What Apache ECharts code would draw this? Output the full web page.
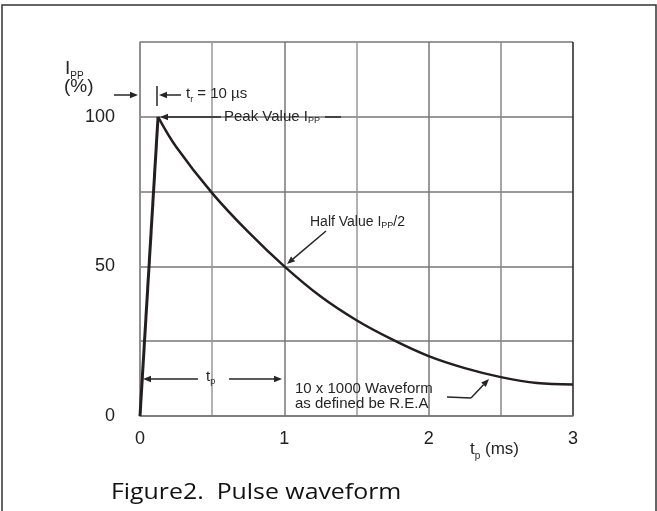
<!DOCTYPE html>
<html>
<head>
<meta charset="utf-8">
<script src="https://cdn.jsdelivr.net/npm/echarts@6/dist/echarts.min.js"></script>
<style>
  html, body { margin: 0; padding: 0; background: #fff; }
  #main { width: 657px; height: 511px; }
</style>
</head>
<body>
<div id="main"></div>
<script>
// pulse waveform, values (t in ms, I in % of Ipp)
var riseT = [0, 0.125];
var riseI = [0, 100];
var decayT = [0.125, 0.25, 0.5, 0.75, 1, 1.25, 1.5, 1.75, 2, 2.25, 2.5, 2.75, 3];
var decayI = [100, 90, 74.5, 61.5, 50, 40, 32, 25.5, 20, 16, 13, 11, 10.5];
var xTickLabels = ['0', '1', '2', '3'];
var yTickLabels = ['0', '50', '100'];

var INK = '#262626';
var FONT = 'Liberation Sans';

function zip(a, b) {
  return a.map(function (v, i) { return [v, b[i]]; });
}

var measure = document.createElement('canvas').getContext('2d');
function textWidth(t, size) {
  measure.font = size + 'px "' + FONT + '"';
  return measure.measureText(t).width;
}

// parts: [text, fontSize, dy]; drawn one after another from x
function label(parts, x, y) {
  var out = [];
  parts.forEach(function (p) {
    out.push({
      type: 'text', silent: true, z: 100,
      style: {
        text: p[0], x: x, y: y + (p[2] || 0),
        fontSize: p[1], fontFamily: FONT, fill: INK,
        align: 'left', verticalAlign: 'middle'
      }
    });
    x += textWidth(p[0], p[1]);
  });
  return out;
}

function arrow(x1, y1, x2, y2) {
  var a = Math.atan2(y2 - y1, x2 - x1), L = 8, W = 3.2;
  var bx = x2 - L * Math.cos(a), by = y2 - L * Math.sin(a);
  var px = -Math.sin(a) * W, py = Math.cos(a) * W;
  return [
    { type: 'line', silent: true, z: 100, shape: { x1: x1, y1: y1, x2: bx, y2: by },
      style: { stroke: INK, lineWidth: 1.5 } },
    { type: 'polygon', silent: true, z: 100,
      shape: { points: [[x2, y2], [bx + px, by + py], [bx - px, by - py]] },
      style: { fill: INK } }
  ];
}

function seg(x1, y1, x2, y2, w) {
  return { type: 'line', silent: true, z: 100, shape: { x1: x1, y1: y1, x2: x2, y2: y2 },
    style: { stroke: INK, lineWidth: w || 1.5 } };
}

var graphics = [].concat(
  // frame
  [{ type: 'rect', silent: true, shape: { x: 2, y: 5, width: 654, height: 530 },
     style: { fill: 'none', stroke: '#333', lineWidth: 1.5 } }],
  // y axis name
  label([['I', 19, 0], ['PP', 10, 7]], 65, 69),
  label([['(%)', 19, 0]], 64, 87),
  arrow(114, 95, 138, 95),
  // rise time
  [seg(157, 86, 157, 106, 1.5)],
  arrow(181, 95, 159, 95),
  label([['t', 15, 0], ['r', 9, 6], [' = 10 µs', 15, 0]], 186, 94),
  // peak value
  arrow(221, 117, 160, 117),
  label([['Peak Value I', 15, 0], ['PP', 9, 4]], 224, 117),
  [seg(325, 117, 341, 117)],
  // half value
  label([['Half Value I', 14, 0], ['PP', 9, 4], ['/2', 14, 0]], 310, 222),
  arrow(326, 231, 287, 264),
  // tp span
  arrow(198, 379, 143, 379),
  arrow(229, 379, 282, 379),
  label([['t', 15, 0], ['p', 9, 5]], 206, 377),
  // waveform note
  label([['10 x 1000 Waveform', 15, 0]], 295, 389),
  label([['as defined be R.E.A', 15, 0]], 295, 404),
  [seg(447, 397, 471, 398)],
  arrow(471, 398, 489, 379),
  // x axis name
  label([['t', 17, 0], ['p', 10, 7], [' (ms)', 17, 0]], 470, 449),
  // caption
  [{ type: 'text', silent: true, x: 111, y: 493, scaleX: 1.13,
     style: { text: 'Figure2.  Pulse waveform', x: 0, y: 0,
       fontSize: 22, fontFamily: 'Open Sans', fill: '#111',
       align: 'left', verticalAlign: 'middle' } }]
);

var myChart = echarts.init(document.getElementById('main'), null, { renderer: 'canvas' });
var option = {
  backgroundColor: '#fff',
  animation: false,
  grid: { left: 140, top: 42, right: 84, bottom: 95 },
  xAxis: {
    type: 'value', min: 0, max: 3, interval: 0.5,
    axisLine: { show: true, lineStyle: { color: '#777', width: 1.5 } },
    axisTick: { show: false },
    axisLabel: {
      margin: 14, fontSize: 18, fontFamily: FONT, color: '#222',
      formatter: function (v) { return xTickLabels.indexOf(String(v)) >= 0 ? String(v) : ''; }
    },
    splitLine: { show: true, lineStyle: {
      color: ['#888', '#999', '#777', '#999', '#777', '#888', '#222'], width: 1.5 } }
  },
  yAxis: {
    type: 'value', min: 0, max: 125, interval: 25,
    axisLine: { show: true, lineStyle: { color: '#888', width: 1.5 } },
    axisTick: { show: false },
    axisLabel: {
      margin: 25, fontSize: 18, fontFamily: FONT, color: '#222',
      formatter: function (v) { return yTickLabels.indexOf(String(v)) >= 0 ? String(v) : ''; }
    },
    splitLine: { show: true, lineStyle: { color: '#777', width: 1.5 } }
  },
  series: [
    {
      type: 'line', data: zip(riseT, riseI), showSymbol: false,
      lineStyle: { color: '#231f20', width: 3 }
    },
    {
      type: 'line', data: zip(decayT, decayI), showSymbol: false,
      smooth: 0.35,
      lineStyle: { color: '#231f20', width: 2.5 }
    }
  ],
  graphic: graphics
};
myChart.setOption(option);
</script>
</body>
</html>
